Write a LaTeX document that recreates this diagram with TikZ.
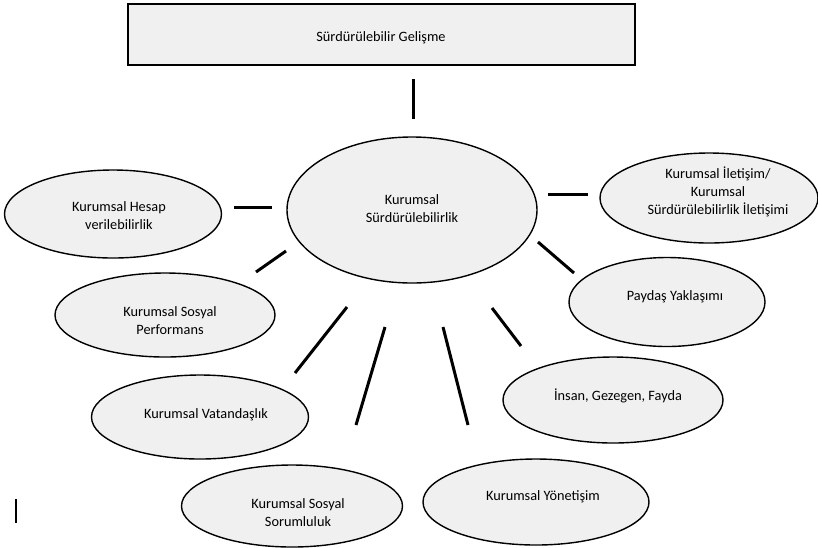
\documentclass[tikz,border=0pt]{standalone}
\usepackage{fontspec}
\setmainfont{Carlito}
\usetikzlibrary{shapes.geometric}
\definecolor{bubblegray}{RGB}{240,240,240}
\begin{document}
\begin{tikzpicture}[x=1pt,y=-1pt,
  txt/.style={font=\fontsize{14.3}{18}\selectfont, align=center, inner sep=0pt},
  bubble/.style={draw=black, line width=1.4pt, fill=bubblegray, ellipse, inner sep=0pt},
  link/.style={line width=3pt},
  thinlink/.style={line width=1.5pt},
]
\useasboundingbox[fill=white] (0,0) rectangle (818,547);

% top box
\node[draw=black, line width=1.8pt, fill=bubblegray, minimum width=507pt, minimum height=61pt, inner sep=0pt] (top) at (381.5,34.5) {};
\node[txt] (top-t) at (381,38) {Sürdürülebilir Gelişme};

% central ellipse
\node[bubble, minimum width=250pt, minimum height=146pt] (center) at (412,210) {};
\node[txt] (center-t) at (412,209) {Kurumsal\\Sürdürülebilirlik};

% surrounding ellipses
\node[bubble, minimum width=217pt, minimum height=88pt] (hesap) at (113,214) {};
\node[txt] (hesap-t) at (119,216) {Kurumsal Hesap\\verilebilirlik};

\node[bubble, minimum width=220pt, minimum height=84pt] (perf) at (165,315) {};
\node[txt] (perf-t) at (170,321) {Kurumsal Sosyal\\Performans};

\node[bubble, minimum width=217pt, minimum height=84pt] (vatan) at (200,417) {};
\node[txt] (vatan-t) at (206,415) {Kurumsal Vatandaşlık};

\node[bubble, minimum width=221pt, minimum height=82pt] (soryal) at (292,506) {};
\node[txt] (soryal-t) at (298,513) {Kurumsal Sosyal\\Sorumluluk};

\node[bubble, minimum width=226pt, minimum height=86pt] (yonet) at (536,502) {};
\node[txt] (yonet-t) at (543,497) {Kurumsal Yönetişim};

\node[bubble, minimum width=220pt, minimum height=86pt] (insan) at (613,400) {};
\node[txt] (insan-t) at (618,396) {İnsan, Gezegen, Fayda};

\node[bubble, minimum width=196pt, minimum height=89pt] (paydas) at (667,302) {};
\node[txt] (paydas-t) at (675,297) {Paydaş Yaklaşımı};

\node[bubble, minimum width=218pt, minimum height=90pt] (iletisim) at (709,198) {};
\node[txt] (iletisim-t) at (718,192) {Kurumsal İletişim/\\Kurumsal\\Sürdürülebilirlik İletişimi};

% connector end points (the segments float between the shapes)
\coordinate (a1) at (413,79);  \coordinate (a2) at (413,119);
\coordinate (b1) at (272,207); \coordinate (b2) at (234,207);
\coordinate (c1) at (286,251); \coordinate (c2) at (256,272);
\coordinate (d1) at (347,307); \coordinate (d2) at (295,373);
\coordinate (e1) at (385,327); \coordinate (e2) at (356,425);
\coordinate (f1) at (443,327); \coordinate (f2) at (468,425);
\coordinate (g1) at (492,308); \coordinate (g2) at (521,346);
\coordinate (h1) at (538,242); \coordinate (h2) at (574,273);
\coordinate (i1) at (548,194); \coordinate (i2) at (588,194);
\coordinate (m1) at (16,499);  \coordinate (m2) at (16,523);

\draw[link] (a1) -- (a2);
\draw[link] (b1) -- (b2);
\draw[link] (c1) -- (c2);
\draw[link] (d1) -- (d2);
\draw[link] (e1) -- (e2);
\draw[link] (f1) -- (f2);
\draw[link] (g1) -- (g2);
\draw[link] (h1) -- (h2);
\draw[link] (i1) -- (i2);
\draw[thinlink] (m1) -- (m2);
\end{tikzpicture}
\end{document}
